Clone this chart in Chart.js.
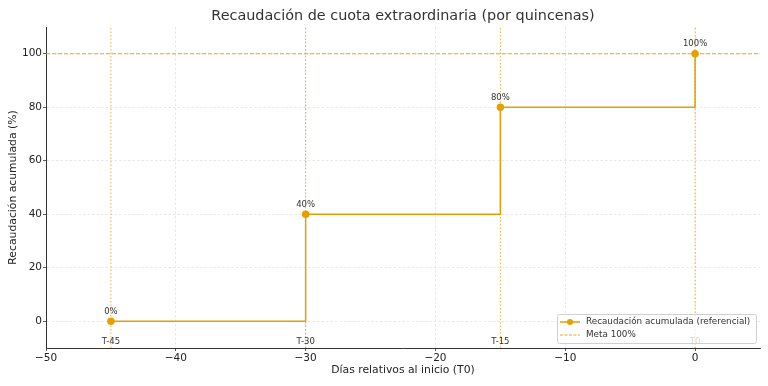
<!DOCTYPE html>
<html>
<head>
<meta charset="utf-8">
<script src="https://cdn.jsdelivr.net/npm/chart.js@4"></script>
<style>
  body { margin: 0; background: #fff; }
  #wrap { width: 768px; height: 386px; }
</style>
</head>
<body>
<div id="wrap"><canvas id="myChart" width="768" height="386"></canvas></div>
<script>
// data
var days = [-45, -30, -15, 0]
var collected = [0, 40, 80, 100]
var pctLabels = ["0%", "40%", "80%", "100%"]
var milestoneLabels = ["T-45", "T-30", "T-15", "T0"]
var goal = 100
var xTicks = [-50, -40, -30, -20, -10, 0]
var yTicks = [0, 20, 40, 60, 80, 100]

var orange = "#E69F00"
var font = "'DejaVu Sans', sans-serif"

var stepPoints = []
for (let i = 0; i < days.length; i++) {
    stepPoints.push({x: days[i], y: collected[i]})
}

var datasets = [
    {
        label: "Recaudación acumulada (referencial)",
        data: stepPoints,
        stepped: true,
        borderColor: orange,
        backgroundColor: orange,
        borderWidth: 1.5,
        pointRadius: 3,
        pointHoverRadius: 3,
        fill: false
    },
    {
        label: "Meta 100%",
        data: [{x: -50, y: goal}, {x: 5, y: goal}],
        borderColor: orange,
        borderWidth: 0.9,
        borderDash: [4, 2],
        pointRadius: 0,
        fill: false
    }
]
// vertical milestone markers
for (let i = 0; i < days.length; i++) {
    datasets.push({
        label: "_marker" + i,
        data: [{x: days[i], y: -10}, {x: days[i], y: 110}],
        borderColor: "rgba(230,159,0,0.8)",
        borderWidth: 1,
        borderDash: [1.5, 2],
        pointRadius: 0,
        fill: false
    })
}

var annotations = {
    id: "annotations",
    afterDatasetsDraw: function (chart) {
        var ctx = chart.ctx
        var xs = chart.scales.x
        var ys = chart.scales.y
        ctx.save()
        ctx.fillStyle = "#333"
        ctx.textAlign = "center"
        ctx.textBaseline = "middle"
        ctx.font = "8.5px " + font
        for (let i = 0; i < days.length; i++) {
            var px = xs.getPixelForValue(days[i])
            ctx.fillText(pctLabels[i], px, ys.getPixelForValue(collected[i]) - 9.5)
            ctx.fillText(milestoneLabels[i], px, 342)
        }

        // title
        ctx.font = "14.4px " + font
        ctx.fillText("Recaudación de cuota extraordinaria (por quincenas)", (chart.chartArea.left + chart.chartArea.right) / 2, 16)

        // legend, lower right
        var bx = 557, by = 314, bw = 199, bh = 29
        ctx.fillStyle = "rgba(255,255,255,0.8)"
        ctx.strokeStyle = "#d0d0d0"
        ctx.lineWidth = 1
        ctx.beginPath()
        ctx.roundRect(bx + 0.5, by + 0.5, bw, bh, 2)
        ctx.fill()
        ctx.stroke()

        ctx.strokeStyle = orange
        ctx.lineWidth = 1.5
        ctx.beginPath()
        ctx.moveTo(560, 322)
        ctx.lineTo(580, 322)
        ctx.stroke()
        ctx.fillStyle = orange
        ctx.beginPath()
        ctx.arc(570, 322, 3, 0, Math.PI * 2)
        ctx.fill()
        ctx.lineWidth = 0.9
        ctx.setLineDash([3, 1.5])
        ctx.beginPath()
        ctx.moveTo(560, 335)
        ctx.lineTo(580, 335)
        ctx.stroke()
        ctx.setLineDash([])

        ctx.fillStyle = "#333"
        ctx.textAlign = "left"
        ctx.font = "8.8px " + font
        ctx.fillText("Recaudación acumulada (referencial)", 586, 322)
        ctx.fillText("Meta 100%", 586, 335)
        ctx.restore()
    }
}

function minusSign(v) {
    return String(v).replace("-", "\u2212")
}

var ctx = document.getElementById("myChart")
var myChart = new Chart(ctx, {
    type: "line",
    data: {datasets: datasets},
    options: {
        responsive: false,
        animation: false,
        layout: {padding: {left: 0, right: 8, top: 27, bottom: 0}},
        plugins: {
            legend: {display: false},
            title: {display: false},
            tooltip: {enabled: false}
        },
        scales: {
            x: {
                type: "linear",
                min: -50,
                max: 5,
                afterBuildTicks: function (scale) {
                    scale.ticks = xTicks.map(v => ({value: v}))
                },
                afterFit: function (scale) { scale.height = 38 },
                ticks: {
                    color: "#222",
                    font: {family: font, size: 10.5},
                    padding: 1,
                    maxRotation: 0,
                    callback: v => minusSign(v)
                },
                grid: {color: "#e2e2e2", lineWidth: 0.8, tickColor: "#333", tickLength: 3},
                border: {color: "#333", width: 1, dash: [2.5, 2]},
                title: {
                    display: true,
                    text: "Días relativos al inicio (T0)",
                    color: "#222",
                    font: {family: font, size: 10.8},
                    padding: {top: 0, bottom: 9}
                }
            },
            y: {
                type: "linear",
                min: -10,
                max: 110,
                afterBuildTicks: function (scale) {
                    scale.ticks = yTicks.map(v => ({value: v}))
                },
                afterFit: function (scale) { scale.width = 46 },
                ticks: {
                    color: "#222",
                    font: {family: font, size: 10.5},
                    padding: 1,
                    callback: v => minusSign(v)
                },
                grid: {color: "#e2e2e2", lineWidth: 0.8, tickColor: "#333", tickLength: 3},
                border: {color: "#333", width: 1, dash: [2.5, 2]},
                title: {
                    display: true,
                    text: "Recaudación acumulada (%)",
                    color: "#222",
                    font: {family: font, size: 10.8},
                    padding: {top: 7, bottom: 0}
                }
            }
        }
    },
    plugins: [annotations]
})
</script>
</body>
</html>
